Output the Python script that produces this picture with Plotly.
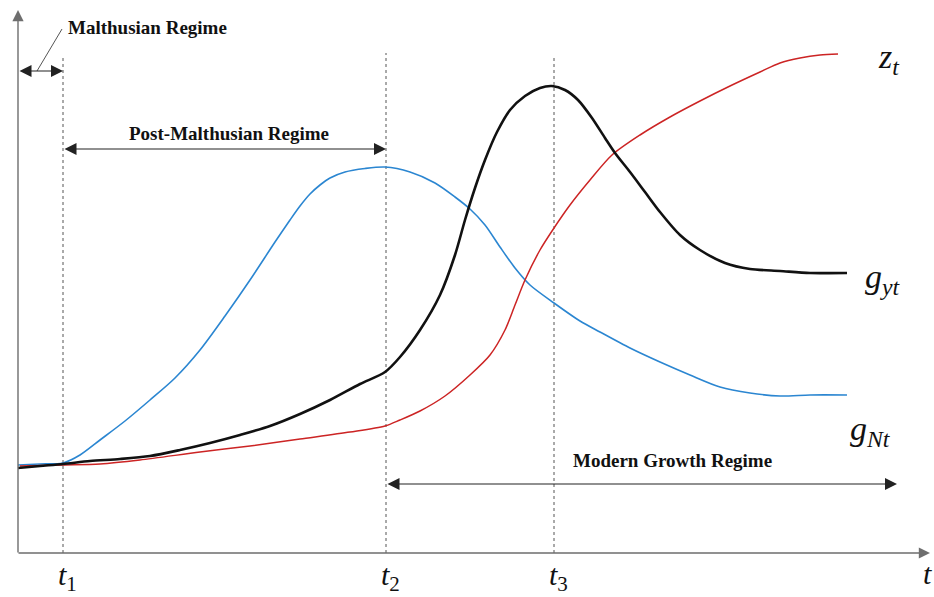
import plotly.graph_objects as go

# Time axis runs from the origin to the right; the vertical axis is growth/level.
# Coordinates are in figure units measured from the axis origin.

# g_Nt: population growth
pop_t = [0, 22, 45, 62, 82, 107, 132, 157, 182, 207, 232, 257, 272, 282, 292, 302, 312,
         327, 347, 367, 392, 417, 437, 452, 467, 482, 497, 512, 536, 562, 582, 612, 642,
         672, 702, 732, 762, 792, 829]
pop_g = [88, 89, 90, 98, 113, 132, 153, 175, 203, 237, 273, 311, 333, 347, 359, 368, 375,
         381, 384.5, 386, 381, 370, 356, 344, 328, 306, 285, 268, 250, 232, 221, 205, 191,
         178, 166, 160, 157, 158, 158]

# g_yt: income per capita growth
inc_t = [0, 22, 45, 72, 102, 132, 162, 192, 222, 252, 282, 312, 342, 367, 382, 402, 422,
         437, 447, 457, 467, 479, 492, 507, 522, 534, 547, 560, 574, 587, 597, 612, 627,
         642, 662, 682, 707, 732, 762, 792, 829]
inc_g = [85, 87, 89, 92, 94, 97, 103, 110, 118, 127, 139, 153, 169, 181, 196, 223, 258,
         298, 333, 365, 393, 421, 443, 457, 465, 467, 463, 453, 435, 415, 400, 381, 361,
         341, 318, 303, 290, 284, 282, 280, 280]

# z_t: technological progress
tech_t = [2, 45, 82, 122, 182, 232, 282, 332, 367, 382, 402, 427, 452, 472, 487, 497, 507,
          522, 536, 552, 572, 594, 622, 652, 682, 712, 742, 762, 782, 802, 820]
tech_z = [87, 88, 89, 93, 101, 107, 114, 121, 127, 133, 142, 157, 178, 198, 223, 248, 273,
          303, 325, 348, 373, 398, 418, 436, 452, 467, 481, 490, 495, 498, 499]

# Regime boundaries t1, t2, t3 and the end of the time axis
t_marks = [45, 368, 536]
t_subs = ["1", "2", "3"]
t_end = 912
y_top = 543

SERIF = "Liberation Serif"
AXIS_GREY = "#6e6e6e"

fig = go.Figure()

fig.add_trace(go.Scatter(x=pop_t, y=pop_g, mode="lines", line=dict(color="#2b86d1", width=1.6, shape="spline", smoothing=0.8),
                         hoverinfo="skip", name="g_Nt"))
fig.add_trace(go.Scatter(x=tech_t, y=tech_z, mode="lines", line=dict(color="#cc2424", width=1.5, shape="spline", smoothing=0.8),
                         hoverinfo="skip", name="z_t"))
fig.add_trace(go.Scatter(x=inc_t, y=inc_g, mode="lines", line=dict(color="#111111", width=2.6, shape="spline", smoothing=0.8),
                         hoverinfo="skip", name="g_yt"))

# Dashed regime boundaries
dash_tops = [495, 500, 497]
for t, top in zip(t_marks, dash_tops):
    fig.add_shape(type="line", x0=t, x1=t, y0=0, y1=top, xref="x", yref="y",
                  line=dict(color="#555555", width=1, dash="dot"), layer="below")

# Axes with arrowheads
fig.add_annotation(x=0, y=y_top, ax=0, ay=-1, axref="x", ayref="y", xref="x", yref="y",
                   showarrow=True, arrowhead=2, arrowsize=1.6, arrowwidth=1.4, arrowcolor=AXIS_GREY, text="")
fig.add_annotation(x=t_end, y=0, ax=-1, ay=0, axref="x", ayref="y", xref="x", yref="y",
                   showarrow=True, arrowhead=2, arrowsize=1.6, arrowwidth=1.4, arrowcolor=AXIS_GREY, text="")

# Regime spans (double-headed arrows)
spans = [(0, t_marks[0], 482), (t_marks[0], t_marks[1], 404), (t_marks[1], 879, 69)]
for a, b, yy in spans:
    fig.add_annotation(x=b, y=yy, ax=a, ay=yy, axref="x", ayref="y", xref="x", yref="y",
                       showarrow=True, arrowhead=2, startarrowhead=2, arrowside="end+start",
                       arrowsize=2.0, startarrowsize=2.0, arrowwidth=1.2, arrowcolor="#222222", text="")

# Leader line from the Malthusian span to its label
fig.add_shape(type="line", x0=19, y0=482, x1=44, y1=524, xref="x", yref="y",
              line=dict(color="#555555", width=1))

regime_font = dict(family=SERIF, size=19, color="#111111")
fig.add_annotation(x=48, y=526, text="<b>Malthusian Regime</b>", showarrow=False,
                   xanchor="left", yanchor="middle", font=regime_font)
fig.add_annotation(x=(t_marks[0] + t_marks[1]) / 2 + 4, y=420, text="<b>Post-Malthusian Regime</b>", showarrow=False,
                   xanchor="center", yanchor="middle", font=regime_font)
fig.add_annotation(x=654, y=93, text="<b>Modern Growth Regime</b>", showarrow=False,
                   xanchor="center", yanchor="middle", font=regime_font)

# Time marks below the axis
for t, sub in zip(t_marks, t_subs):
    fig.add_annotation(x=t + 4, y=-24, text="<i>t</i><sub>" + sub + "</sub>", showarrow=False,
                       xanchor="center", yanchor="middle", font=dict(family=SERIF, size=30, color="#111111"))
fig.add_annotation(x=t_end - 9, y=-20, text="<i>t</i>", showarrow=False, xanchor="left", yanchor="middle",
                   font=dict(family=SERIF, size=30, color="#111111"))

# Curve labels
curve_font = dict(family=SERIF, size=34, color="#111111")
fig.add_annotation(x=858, y=494, text="<i>z<sub>t</sub></i>", showarrow=False, xanchor="left", yanchor="middle", font=curve_font)
fig.add_annotation(x=845, y=274, text="<i>g<sub>yt</sub></i>", showarrow=False, xanchor="left", yanchor="middle", font=curve_font)
fig.add_annotation(x=830, y=122, text="<i>g<sub>Nt</sub></i>", showarrow=False, xanchor="left", yanchor="middle", font=curve_font)

fig.update_layout(
    width=934, height=597,
    margin=dict(l=0, r=0, t=0, b=0),
    paper_bgcolor="white", plot_bgcolor="white",
    showlegend=False,
    xaxis=dict(range=[-18, 916], visible=False, fixedrange=True),
    yaxis=dict(range=[-44, 553], visible=False, fixedrange=True),
)

fig.write_html("out.html")
